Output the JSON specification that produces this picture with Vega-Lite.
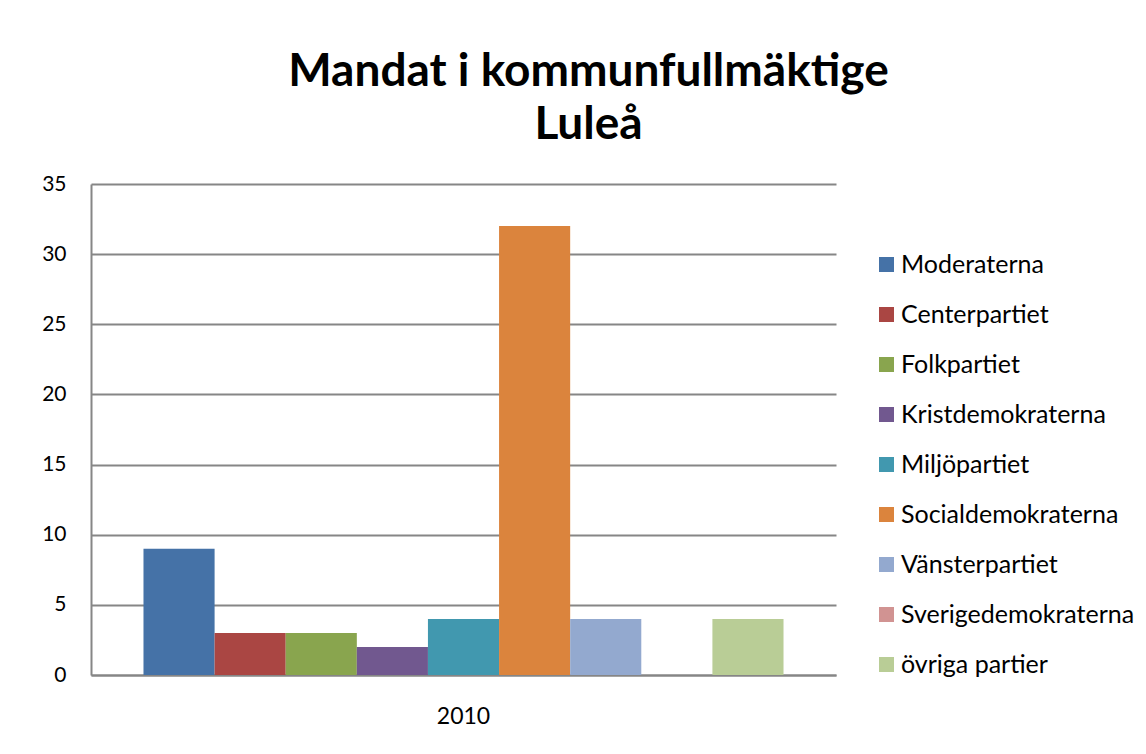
{
  "$schema": "https://vega.github.io/schema/vega-lite/v6.json",
  "width": 745,
  "height": 491,
  "autosize": {"type": "none"},
  "padding": {"left": 91, "top": 184, "right": 310, "bottom": 79},
  "background": "white",
  "title": {
    "text": ["Mandat i kommunfullmäktige", "Luleå"],
    "anchor": "middle",
    "frame": "group",
    "dx": 125,
    "offset": 24,
    "font": "Lato",
    "fontSize": 46,
    "fontWeight": "bold",
    "lineHeight": 53,
    "color": "black"
  },
  "data": {
    "values": [
      {"year": "2010", "party": "Moderaterna", "mandat": 9},
      {"year": "2010", "party": "Centerpartiet", "mandat": 3},
      {"year": "2010", "party": "Folkpartiet", "mandat": 3},
      {"year": "2010", "party": "Kristdemokraterna", "mandat": 2},
      {"year": "2010", "party": "Miljöpartiet", "mandat": 4},
      {"year": "2010", "party": "Socialdemokraterna", "mandat": 32},
      {"year": "2010", "party": "Vänsterpartiet", "mandat": 4},
      {"year": "2010", "party": "Sverigedemokraterna", "mandat": 0},
      {"year": "2010", "party": "övriga partier", "mandat": 4}
    ]
  },
  "mark": {"type": "bar"},
  "encoding": {
    "x": {
      "field": "year",
      "type": "nominal",
      "scale": {"paddingInner": 0, "paddingOuter": 0.082},
      "axis": {
        "title": null,
        "labelAngle": 0,
        "labelFont": "Lato",
        "labelFontSize": 23,
        "labelColor": "black",
        "labelPadding": 30,
        "ticks": false,
        "domainColor": "#868686",
        "domainWidth": 2
      }
    },
    "xOffset": {
      "field": "party",
      "type": "nominal",
      "sort": ["Moderaterna", "Centerpartiet", "Folkpartiet", "Kristdemokraterna", "Miljöpartiet", "Socialdemokraterna", "Vänsterpartiet", "Sverigedemokraterna", "övriga partier"],
      "scale": {"paddingInner": 0, "paddingOuter": 0}
    },
    "y": {
      "field": "mandat",
      "type": "quantitative",
      "scale": {"domain": [0, 35], "nice": false},
      "axis": {
        "title": null,
        "values": [0, 5, 10, 15, 20, 25, 30, 35],
        "labelFont": "Lato",
        "labelFontSize": 21,
        "labelColor": "black",
        "labelPadding": 25,
        "ticks": false,
        "domainColor": "#868686",
        "domainWidth": 2,
        "gridColor": "#868686",
        "gridWidth": 2
      }
    },
    "color": {
      "field": "party",
      "type": "nominal",
      "sort": ["Moderaterna", "Centerpartiet", "Folkpartiet", "Kristdemokraterna", "Miljöpartiet", "Socialdemokraterna", "Vänsterpartiet", "Sverigedemokraterna", "övriga partier"],
      "scale": {
        "domain": ["Moderaterna", "Centerpartiet", "Folkpartiet", "Kristdemokraterna", "Miljöpartiet", "Socialdemokraterna", "Vänsterpartiet", "Sverigedemokraterna", "övriga partier"],
        "range": ["#4572A7", "#AA4643", "#89A54E", "#71588F", "#4198AF", "#DB843D", "#93A9CF", "#D19392", "#B9CD96"]
      },
      "legend": {
        "title": null,
        "orient": "none",
        "legendX": 783,
        "legendY": 68,
        "symbolType": "square",
        "symbolSize": 225,
        "symbolStrokeWidth": 0,
        "labelFont": "Lato",
        "labelFontSize": 25,
        "labelColor": "black",
        "labelOffset": 2,
        "labelLimit": 400,
        "rowPadding": 24
      }
    }
  },
  "config": {
    "view": {"stroke": null}
  }
}
